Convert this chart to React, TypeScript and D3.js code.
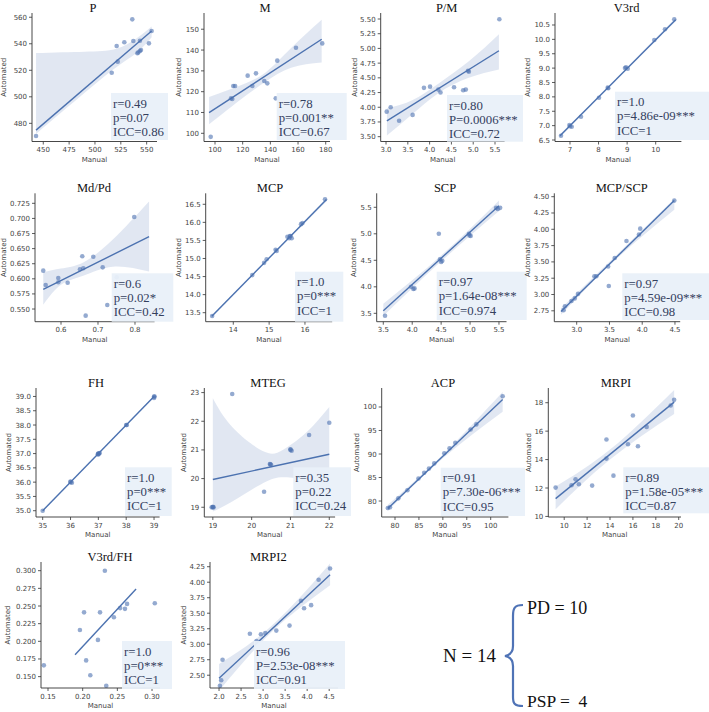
import * as d3 from 'd3'

// values (manual vs automated, 14 cases)
const P_manual = [443, 516.2, 521, 522, 528.4, 536.1, 537.1, 541, 541.9, 543.5, 544.5, 543.5, 552.2, 554.8]
const P_auto = [470.4, 518.1, 538.3, 526.5, 541.1, 558.4, 542.1, 532.8, 533.5, 534.5, 535.3, 542.3, 540.3, 549.6]
const P_fit = [[443, 474.9], [554.8, 549.6]]
const P_ci = [[443, 472, 533], [490, 503, 534], [520, 522, 536], [540, 533, 544], [554.8, 545, 553]]
const P_stats = ['r=0.49', 'p=0.07', 'ICC=0.86']
const P_xt = [450, 475, 500, 525, 550]
const P_yt = [480, 500, 520, 540, 560]

const M_manual = [96.9, 111.6, 112.5, 113.2, 114.5, 123.6, 127, 129.6, 135.6, 137.8, 143.9, 145, 158.5, 177.5]
const M_auto = [98.3, 116.8, 116.5, 122.7, 122.7, 127.7, 122.7, 128.8, 125.1, 124, 116.8, 134.9, 141.1, 143.2]
const M_fit = [[95.7, 109.9], [177.1, 145.2]]
const M_ci = [[95.7, 104.3, 117.5], [120, 117, 123.5], [137, 125, 129.5], [155, 131.5, 141], [177.1, 134, 154.5]]
const M_stats = ['r=0.78', 'p=0.001**', 'ICC=0.67']
const M_xt = [100, 120, 140, 160, 180]
const M_yt = [100, 110, 120, 130, 140, 150]

const PM_manual = [3.016, 3.107, 3.3, 3.61, 3.87, 4.01, 4.2, 4.25, 4.56, 4.77, 4.83, 4.9, 4.88, 5.6]
const PM_auto = [3.925, 4.0, 3.77, 3.87, 4.33, 4.35, 4.3, 4.25, 4.34, 4.29, 4.3, 4.605, 4.62, 5.495]
const PM_fit = [[3.02, 3.77], [5.59, 4.96]]
const PM_ci = [[3.02, 3.52, 3.98], [3.6, 3.88, 4.12], [4.2, 4.24, 4.4], [4.9, 4.5, 4.78], [5.59, 4.64, 5.24]]
const PM_stats = ['r=0.80', 'P=0.0006***', 'ICC=0.72']
const PM_xt = [3, 3.5, 4, 4.5, 5, 5.5]
const PM_yt = [3.5, 3.75, 4, 4.25, 4.5, 4.75, 5, 5.25, 5.5]

const V3_manual = [6.685, 6.98, 7.06, 7.385, 8.015, 8.32, 8.925, 9.02, 9.95, 10.325, 10.65, 7.0, 8.96, 8.34]
const V3_auto = [6.65, 7.02, 6.96, 7.31, 7.97, 8.32, 9.0, 8.98, 9.98, 10.35, 10.7, 6.98, 9.03, 8.3]
const V3_fit = [[6.65, 6.65], [10.7, 10.68]]
const V3_ci = [[6.65, 6.6, 6.7], [8.7, 8.68, 8.73], [10.7, 10.63, 10.74]]
const V3_stats = ['r=1.0', 'p=4.86e-09***', 'ICC=1']
const V3_xt = [7, 8, 9, 10]
const V3_yt = [6.5, 7, 7.5, 8, 8.5, 9, 9.5, 10, 10.5]

const MdPd_manual = [0.552, 0.5586, 0.5927, 0.5927, 0.618, 0.6513, 0.6575, 0.6603, 0.6667, 0.6873, 0.7127, 0.7251, 0.7505, 0.798]
const MdPd_auto = [0.6135, 0.5898, 0.6014, 0.5943, 0.5936, 0.6158, 0.6373, 0.6174, 0.539, 0.6366, 0.619, 0.5567, 0.6025, 0.7024]
const MdPd_fit = [[0.552, 0.5827], [0.838, 0.6697]]
const MdPd_ci = [[0.552, 0.557, 0.611], [0.6, 0.59, 0.617], [0.66, 0.605, 0.627], [0.74, 0.62, 0.665], [0.838, 0.612, 0.728]]
const MdPd_stats = ['r=0.6', 'p=0.02*', 'ICC=0.42']
const MdPd_xt = [0.6, 0.7, 0.8]
const MdPd_yt = [0.55, 0.575, 0.6, 0.625, 0.65, 0.675, 0.7, 0.725]

const MCP_manual = [13.41, 14.53, 14.86, 14.93, 15.18, 15.21, 15.51, 15.58, 15.63, 15.56, 15.89, 15.93, 16.56, 15.6]
const MCP_auto = [13.41, 14.54, 14.88, 14.98, 15.24, 15.21, 15.6, 15.62, 15.56, 15.56, 15.95, 15.98, 16.64, 15.62]
const MCP_fit = [[13.4, 13.4], [16.6, 16.63]]
const MCP_ci = [[13.4, 13.37, 13.43], [15, 14.99, 15.02], [16.6, 16.58, 16.67]]
const MCP_stats = ['r=1.0', 'p=0***', 'ICC=1']
const MCP_xt = [14, 15, 16]
const MCP_yt = [13.5, 14, 14.5, 15, 15.5, 16, 16.5]

const SCP_manual = [3.53, 3.98, 4.02, 4.46, 4.48, 4.52, 4.98, 5.01, 5.45, 5.52, 4.04, 4.5, 4.99, 5.48]
const SCP_auto = [3.455, 4.0, 3.96, 5.0, 4.52, 4.49, 5.0, 4.96, 5.49, 5.49, 3.97, 4.47, 4.97, 5.47]
const SCP_fit = [[3.5, 3.55], [5.5, 5.53]]
const SCP_ci = [[3.5, 3.45, 3.68], [4.5, 4.48, 4.59], [5.5, 5.43, 5.63]]
const SCP_stats = ['r=0.97', 'p=1.64e-08***', 'ICC=0.974']
const SCP_xt = [3.5, 4, 4.5, 5, 5.5]
const SCP_yt = [3.5, 4, 4.5, 5, 5.5]

const MS_manual = [2.8, 2.82, 2.92, 2.97, 3.02, 3.27, 3.3, 3.48, 3.49, 3.58, 3.76, 3.95, 3.97, 4.49]
const MS_auto = [2.76, 2.82, 2.9, 2.94, 3.01, 3.28, 3.28, 3.43, 3.13, 3.56, 3.82, 3.92, 4.01, 4.44]
const MS_fit = [[2.76, 2.74], [4.49, 4.44]]
const MS_ci = [[2.76, 2.69, 2.79], [3.6, 3.54, 3.6], [4.49, 4.3, 4.47]]
const MS_stats = ['r=0.97', 'p=4.59e-09***', 'ICC=0.98']
const MS_xt = [3, 3.5, 4, 4.5]
const MS_yt = [2.75, 3, 3.25, 3.5, 3.75, 4, 4.25, 4.5]

const FH_manual = [35, 36, 36.05, 37, 37.02, 36.98, 37.05, 38, 38.02, 39, 39.02, 39, 36, 37]
const FH_auto = [35, 36, 35.98, 37, 37, 36.98, 37.02, 38, 38, 39, 39, 38.95, 36.02, 36.97]
const FH_fit = [[35, 35], [39, 39]]
const FH_ci = [[35, 34.97, 35.03], [37, 36.99, 37.01], [39, 38.97, 39.03]]
const FH_stats = ['r=1.0', 'p=0***', 'ICC=1']
const FH_xt = [35, 36, 37, 38, 39]
const FH_yt = [35, 35.5, 36, 36.5, 37, 37.5, 38, 38.5, 39]

const MTEG_manual = [18.97, 19, 19.02, 19.5, 20.32, 20.47, 20.5, 21, 21.03, 21.48, 22, 20.48, 21, 19]
const MTEG_auto = [19, 19, 19, 22.95, 19.54, 20.51, 20.48, 21.02, 20.97, 21.52, 21.95, 20.5, 21, 19.02]
const MTEG_fit = [[19, 19.97], [22, 20.85]]
const MTEG_ci = [[19, 18.85, 22.8], [19.5, 19.2, 21.8], [20.3, 19.85, 20.95], [20.8, 20.05, 21.0], [21.4, 19.9, 21.6], [22, 19.25, 22.5]]
const MTEG_stats = ['r=0.35', 'p=0.22', 'ICC=0.24']
const MTEG_xt = [19, 20, 21, 22]
const MTEG_yt = [19, 20, 21, 22, 23]

const ACP_manual = [78.5, 78.95, 80.7, 82.6, 84.9, 86.1, 87.1, 88.2, 90.3, 91.4, 92.6, 95.8, 97, 102.5]
const ACP_auto = [78.5, 78.66, 80.57, 82.3, 84.8, 86, 86.9, 88, 90.15, 91.2, 92.4, 95.2, 96.3, 102.3]
const ACP_fit = [[78.5, 78.4], [102.5, 101.6]]
const ACP_ci = [[78.5, 77.9, 79.2], [90, 89.1, 89.9], [102.5, 99, 103.2]]
const ACP_stats = ['r=0.91', 'p=7.30e-06***', 'ICC=0.95']
const ACP_xt = [80, 85, 90, 95, 100]
const ACP_yt = [80, 85, 90, 95, 100]

const MRPI_manual = [9.25, 10.64, 10.99, 11.28, 12.44, 13.69, 13.69, 14.3, 15.57, 16.44, 16.0, 17.2, 19.3, 19.6]
const MRPI_auto = [12.03, 12.19, 12.61, 12.26, 12.17, 15.41, 14.07, 12.87, 15.08, 14.94, 17.1, 16.3, 17.8, 18.2]
const MRPI_fit = [[9.25, 11.25], [19.6, 18.04]]
const MRPI_ci = [[9.25, 10.5, 12.1], [14, 14.0, 14.7], [19.6, 17.2, 18.9]]
const MRPI_stats = ['r=0.89', 'p=1.58e-05***', 'ICC=0.87']
const MRPI_xt = [10, 12, 14, 16, 18, 20]
const MRPI_yt = [10, 12, 14, 16, 18]

const VF_manual = [0.144, 0.196, 0.202, 0.205, 0.211, 0.222, 0.225, 0.232, 0.234, 0.245, 0.254, 0.264, 0.261, 0.304]
const VF_auto = [0.166, 0.216, 0.241, 0.173, 0.152, 0.202, 0.241, 0.3, 0.137, 0.234, 0.247, 0.253, 0.246, 0.254]
const VF_fit = [[0.189, 0.181], [0.277, 0.274]]
const VF_stats = ['r=1.0', 'p=0***', 'ICC=1']
const VF_xt = [0.15, 0.2, 0.25, 0.3]
const VF_yt = [0.15, 0.175, 0.2, 0.225, 0.25, 0.275, 0.3]

const MR2_manual = [2.02, 2.05, 2.08, 2.7, 2.85, 2.95, 3.05, 3.3, 3.6, 3.86, 3.93, 4.09, 4.26, 4.52]
const MR2_auto = [2.33, 2.42, 2.75, 3.17, 3.05, 3.16, 3.18, 3.22, 3.3, 3.7, 3.58, 3.63, 4.04, 4.22]
const MR2_fit = [[2.0, 2.45], [4.52, 4.12]]
const MR2_ci = [[2.0, 2.25, 2.68], [3.2, 3.2, 3.3], [4.52, 3.95, 4.3]]
const MR2_stats = ['r=0.96', 'P=2.53e-08***', 'ICC=0.91']
const MR2_xt = [2, 2.5, 3, 3.5, 4, 4.5]
const MR2_yt = [2.5, 2.75, 3, 3.25, 3.5, 3.75, 4, 4.25]

const groups = ['N = 14', 'PD = 10', 'PSP =  4']

const BLUE = '#4c72b0'
const SERIF = '"Liberation Serif", "Times New Roman", serif'
const SANS = '"DejaVu Sans", sans-serif'

const panels = [
  { id: 'P', title: 'P', mx: P_manual, ay: P_auto, fit: P_fit, ci: P_ci, stats: P_stats, xt: P_xt, yt: P_yt, xf: 'd', yf: 'd',
    l: 32, r: 157, t: 13, b: 141.5, xd: [439.1, 560], yd: [466.3, 563.2], tx: 93, ly: 4.2, box: [111, 93, 168, 140] },
  { id: 'M', title: 'M', mx: M_manual, ay: M_auto, fit: M_fit, ci: M_ci, stats: M_stats, xt: M_xt, yt: M_yt, xf: 'd', yf: 'd',
    l: 204, r: 330, t: 13, b: 141.5, xd: [92.05, 183.1], yd: [96.06, 157.8], tx: 265, ly: 178.5, box: [276.7, 93, 346.7, 140] },
  { id: 'PM', title: 'P/M', mx: PM_manual, ay: PM_auto, fit: PM_fit, ci: PM_ci, stats: PM_stats, xt: PM_xt, yt: PM_yt, xf: '.1f', yf: '.2f',
    l: 380.7, r: 504.6, t: 13, b: 141.5, xd: [2.878, 5.72], yd: [3.418, 5.602], tx: 446.7, ly: 354.5, box: [447, 95, 523, 141.7] },
  { id: 'V3', title: 'V3rd', mx: V3_manual, ay: V3_auto, fit: V3_fit, ci: V3_ci, stats: V3_stats, xt: V3_xt, yt: V3_yt, xf: 'd', yf: '.1f',
    l: 555, r: 681.4, t: 13, b: 141.5, xd: [6.475, 10.9], yd: [6.448, 10.917], tx: 626.7, ly: 528, box: [615, 91.7, 709, 140] },
  { id: 'MdPd', title: 'Md/Pd', mx: MdPd_manual, ay: MdPd_auto, fit: MdPd_fit, ci: MdPd_ci, stats: MdPd_stats, xt: MdPd_xt, yt: MdPd_yt, xf: '.1f', yf: '.3f',
    l: 35, r: 154.6, t: 193.3, b: 321.7, xd: [0.5297, 0.853], yd: [0.529, 0.7416], tx: 94, ly: 4.2, box: [111.7, 273.3, 173.3, 321.7] },
  { id: 'MCP', title: 'MCP', mx: MCP_manual, ay: MCP_auto, fit: MCP_fit, ci: MCP_ci, stats: MCP_stats, xt: MCP_xt, yt: MCP_yt, xf: 'd', yf: '.1f',
    l: 205.7, r: 332.2, t: 193.3, b: 321.7, xd: [13.23, 16.76], yd: [13.251, 16.804], tx: 270, ly: 179, box: [295, 271.7, 343.3, 321.7] },
  { id: 'SCP', title: 'SCP', mx: SCP_manual, ay: SCP_auto, fit: SCP_fit, ci: SCP_ci, stats: SCP_stats, xt: SCP_xt, yt: SCP_yt, xf: '.1f', yf: '.1f',
    l: 376.7, r: 506.5, t: 193.3, b: 321.7, xd: [3.386, 5.63], yd: [3.342, 5.764], tx: 445, ly: 354, box: [436.7, 271.7, 526.7, 320] },
  { id: 'MS', title: 'MCP/SCP', mx: MS_manual, ay: MS_auto, fit: MS_fit, ci: MS_ci, stats: MS_stats, xt: MS_xt, yt: MS_yt, xf: '.1f', yf: '.2f',
    l: 554.3, r: 680.2, t: 193.3, b: 321.7, xd: [2.658, 4.58], yd: [2.583, 4.552], tx: 621.7, ly: 527.5, box: [622.3, 273.3, 709, 320] },
  { id: 'FH', title: 'FH', mx: FH_manual, ay: FH_auto, fit: FH_fit, ci: FH_ci, stats: FH_stats, xt: FH_xt, yt: FH_yt, xf: 'd', yf: '.1f',
    l: 36, r: 159.6, t: 388, b: 517, xd: [34.76, 39.2], yd: [34.78, 39.296], tx: 96, ly: 9.2, box: [125, 467.3, 171.7, 516] },
  { id: 'MTEG', title: 'MTEG', mx: MTEG_manual, ay: MTEG_auto, fit: MTEG_fit, ci: MTEG_ci, stats: MTEG_stats, xt: MTEG_xt, yt: MTEG_yt, xf: 'd', yf: 'd',
    l: 204.3, r: 335.1, t: 388, b: 517, xd: [18.78, 22.15], yd: [18.66, 23.16], tx: 268, ly: 184, box: [293.3, 467.3, 351, 516] },
  { id: 'ACP', title: 'ACP', mx: ACP_manual, ay: ACP_auto, fit: ACP_fit, ci: ACP_ci, stats: ACP_stats, xt: ACP_xt, yt: ACP_yt, xf: 'd', yf: 'd',
    l: 381.7, r: 508.4, t: 388, b: 517, xd: [77.22, 103.7], yd: [76.6, 104.04], tx: 443, ly: 356.5, box: [440.7, 467.7, 525, 516] },
  { id: 'MRPI', title: 'MRPI', mx: MRPI_manual, ay: MRPI_auto, fit: MRPI_fit, ci: MRPI_ci, stats: MRPI_stats, xt: MRPI_xt, yt: MRPI_yt, xf: 'd', yf: 'd',
    l: 548.3, r: 681, t: 388, b: 517, xd: [8.61, 20.2], yd: [9.96, 19.035], tx: 616, ly: 529, box: [623.3, 467.3, 709, 513.3] },
  { id: 'VF', title: 'V3rd/FH', mx: VF_manual, ay: VF_auto, fit: VF_fit, ci: null, stats: VF_stats, xt: VF_xt, yt: VF_yt, xf: '.2f', yf: '.3f',
    l: 41, r: 160, t: 562, b: 688, xd: [0.1399, 0.3115], yd: [0.1339, 0.3123], tx: 110, ly: 8, box: [122, 641, 172, 689] },
  { id: 'MR2', title: 'MRPI2', mx: MR2_manual, ay: MR2_auto, fit: MR2_fit, ci: MR2_ci, stats: MR2_stats, xt: MR2_xt, yt: MR2_yt, xf: '.1f', yf: '.2f',
    l: 210, r: 338, t: 562, b: 688, xd: [1.795, 4.7], yd: [2.294, 4.326], tx: 268.3, ly: 184, box: [254, 641, 345, 689] },
]

function Panel({ p }: { p: any }) {
  const x = d3.scaleLinear().domain(p.xd).range([p.l, p.r])
  const y = d3.scaleLinear().domain(p.yd).range([p.b, p.t])
  const fx = d3.format(p.xf)
  const fy = d3.format(p.yf)
  const band = d3.area<number[]>()
    .x(d => x(d[0]))
    .y0(d => y(d[1]))
    .y1(d => y(d[2]))
    .curve(d3.curveNatural)
  const fitLine = d3.line<number[]>().x(d => x(d[0])).y(d => y(d[1]))
  const clipId = 'clip-' + p.id
  const [bx0, by0, bx1, by1] = p.box
  return (
    <g>
      <defs>
        <clipPath id={clipId}>
          <rect x={p.l} y={p.t} width={p.r - p.l} height={p.b - p.t} />
        </clipPath>
      </defs>
      <text x={p.tx} y={p.t - 1.5} textAnchor="middle" fontFamily={SERIF} fontSize={12.5} fill="#111">{p.title}</text>
      <g clipPath={`url(#${clipId})`}>
        {p.ci && <path d={band(p.ci) || ''} fill={BLUE} fillOpacity={0.17} />}
        {p.mx.map((v: number, i: number) => (
          <circle key={i} cx={x(v)} cy={y(p.ay[i])} r={2.3} fill={BLUE} fillOpacity={0.6} />
        ))}
        <path d={fitLine(p.fit) || ''} stroke={BLUE} strokeWidth={1.4} fill="none" />
      </g>
      {/* spines */}
      <line x1={p.l} x2={p.l} y1={p.t} y2={p.b} stroke="#333" strokeWidth={0.9} />
      <line x1={p.l} x2={p.r} y1={p.b} y2={p.b} stroke="#333" strokeWidth={0.9} />
      {p.xt.map((t: number) => (
        <g key={'x' + t}>
          <line x1={x(t)} x2={x(t)} y1={p.b} y2={p.b + 3} stroke="#333" strokeWidth={0.8} />
          <text x={x(t)} y={p.b + 10.5} textAnchor="middle" fontFamily={SANS} fontSize={7} fill="#444">{fx(t)}</text>
        </g>
      ))}
      {p.yt.map((t: number) => (
        <g key={'y' + t}>
          <line x1={p.l - 3} x2={p.l} y1={y(t)} y2={y(t)} stroke="#333" strokeWidth={0.8} />
          <text x={p.l - 5} y={y(t) + 2.5} textAnchor="end" fontFamily={SANS} fontSize={7} fill="#444">{fy(t)}</text>
        </g>
      ))}
      <text x={(p.l + p.r) / 2} y={p.b + 20} textAnchor="middle" fontFamily={SANS} fontSize={7} fill="#444">Manual</text>
      <text transform={`translate(${p.ly},${(p.t + p.b) / 2}) rotate(-90)`} textAnchor="middle" dominantBaseline="central"
        fontFamily={SANS} fontSize={7} fill="#444">Automated</text>
      <rect x={bx0} y={by0} width={bx1 - bx0} height={by1 - by0} fill="#e9f0f9" fillOpacity={0.95} />
      {p.stats.map((s: string, i: number) => (
        <text key={s} x={bx0 + 2} y={by0 + 14.5 + i * 14.2} fontFamily={SERIF} fontSize={12.8} fill="#34405e">{s}</text>
      ))}
    </g>
  )
}

export default function App() {
  return (
    <svg width={709} height={712} style={{ position: 'absolute', left: 0, top: 0, background: '#fff' }}>
      {panels.map(p => <Panel key={p.id} p={p} />)}
      <text x={443} y={662} fontFamily={SERIF} fontSize={19} fill="#111">{groups[0]}</text>
      <path d="M 523 605 C 514 605, 513 609, 513 616 L 513 646 C 513 652, 510 655, 505 656 C 510 657, 513 660, 513 666 L 513 697 C 513 703, 514 706, 523 706"
        fill="none" stroke="#4f73b6" strokeWidth={2.2} />
      <text x={527} y={614} fontFamily={SERIF} fontSize={18} fill="#111">{groups[1]}</text>
      <text x={527} y={707} fontFamily={SERIF} fontSize={17.5} fill="#111" style={{ whiteSpace: 'pre' }}>{groups[2]}</text>
    </svg>
  )
}
